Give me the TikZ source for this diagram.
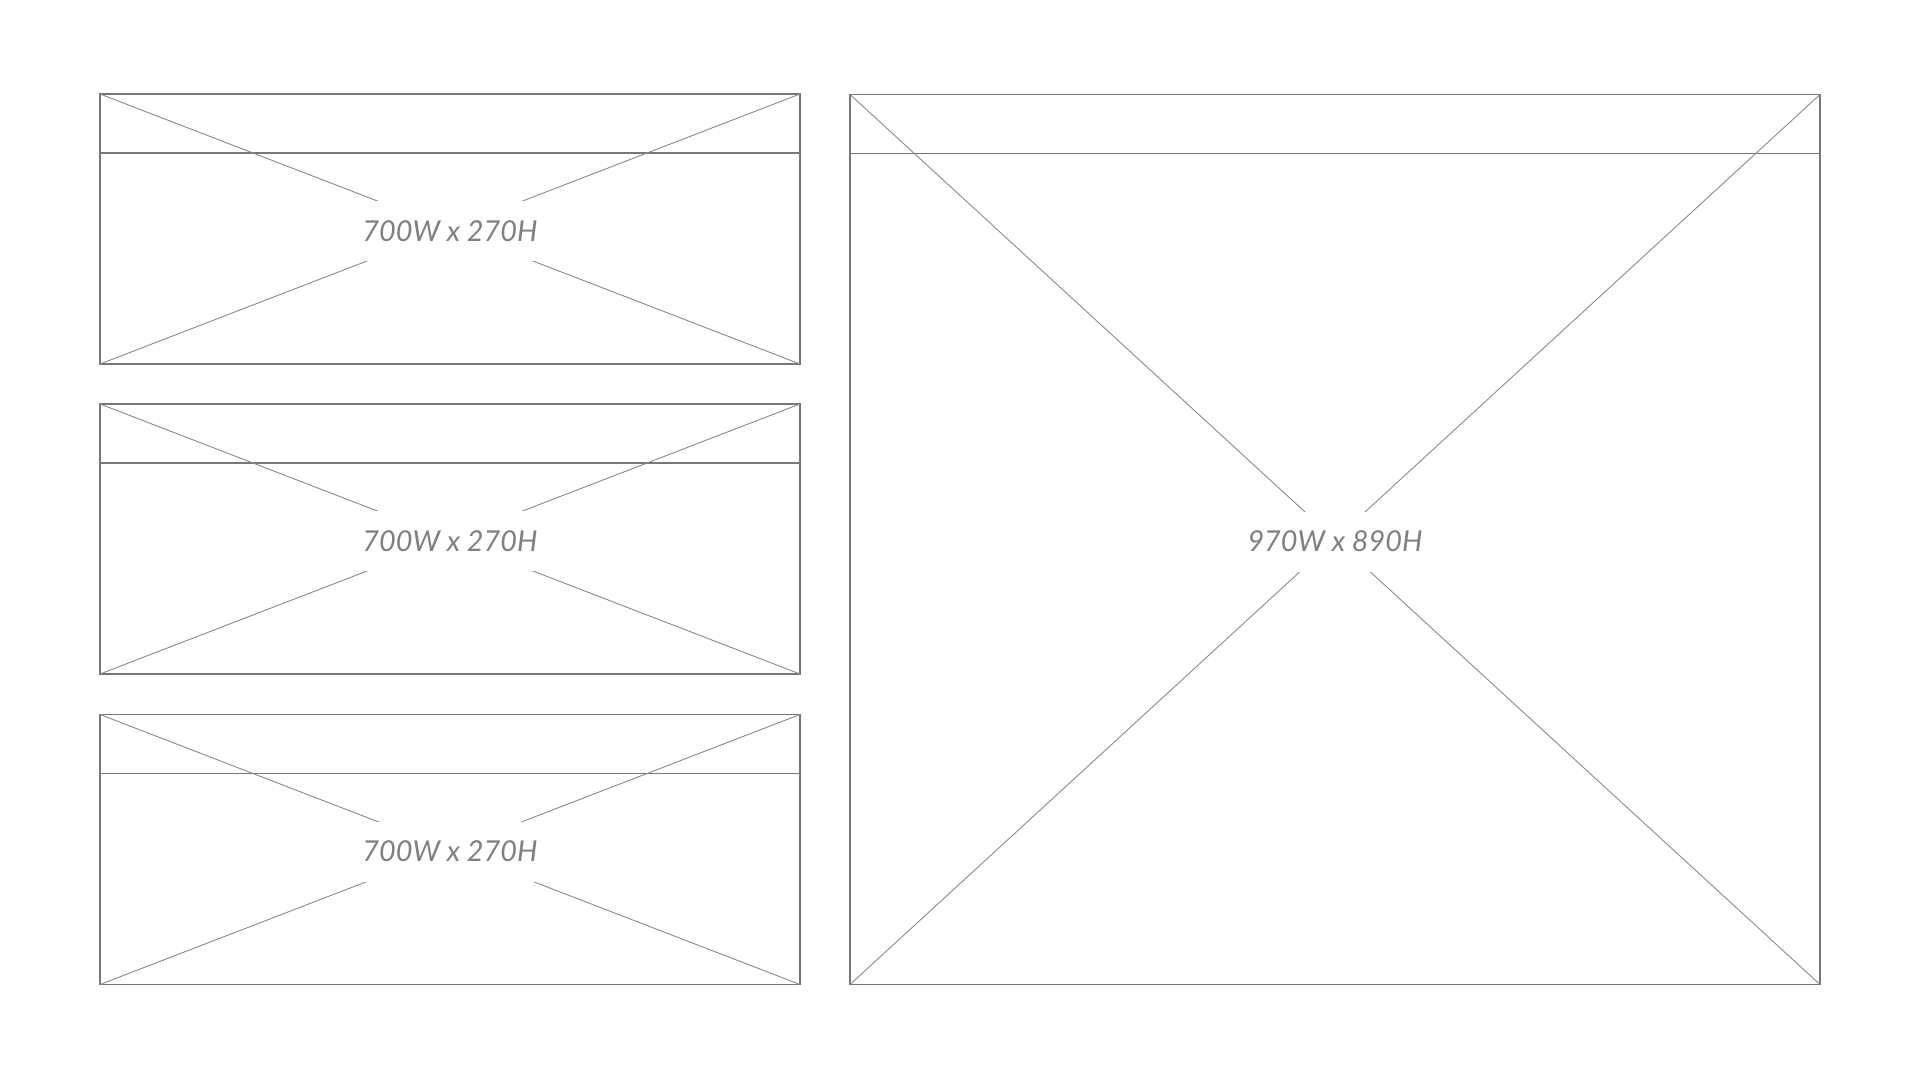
\documentclass[tikz,border=0pt]{standalone}
\usepackage{fontspec}
\setmainfont{Lato}
\usepackage{xcolor}
\usepackage{tikz}
\usetikzlibrary{positioning}
\definecolor{framegray}{HTML}{777777}
\definecolor{crossgray}{HTML}{8A8A8A}
\definecolor{textgray}{HTML}{808080}
\tikzset{
  frame/.style={draw=framegray, line width=0.55pt, rectangle, outer sep=0pt, inner sep=0pt},
  cross/.style={draw=crossgray, line width=0.45pt},
  header/.style={draw=framegray, line width=0.55pt},
  sizelbl/.style={fill=white, inner xsep=2pt, inner ysep=0pt, minimum height=30pt, text=textgray, font=\fontsize{14.4}{16}\selectfont\itshape},
}

\begin{document}
\begin{tikzpicture}[x=0.5pt, y=-0.5pt]
  \useasboundingbox (0,0) rectangle (1920,1080);
  % left column
  \node[frame, minimum width=350pt, minimum height=135pt] (fa) at (450,229) {};
  \node[frame, minimum width=350pt, minimum height=135pt] (fb) at (450,539) {};
  \node[frame, minimum width=350pt, minimum height=135pt] (fc) at (450,849.5) {};
  % right column
  \node[frame, minimum width=485pt, minimum height=445pt] (fd) at (1335,539.5) {};
  \draw[header] ([yshift=-29.5pt]fa.north west) -- ([yshift=-29.5pt]fa.north east);
  \draw[header] ([yshift=-29.5pt]fb.north west) -- ([yshift=-29.5pt]fb.north east);
  \draw[header] ([yshift=-29.5pt]fc.north west) -- ([yshift=-29.5pt]fc.north east);
  \draw[header] ([yshift=-29.5pt]fd.north west) -- ([yshift=-29.5pt]fd.north east);
  \draw[cross] (fa.north west) -- (fa.south east) (fa.north east) -- (fa.south west);
  \draw[cross] (fb.north west) -- (fb.south east) (fb.north east) -- (fb.south west);
  \draw[cross] (fc.north west) -- (fc.south east) (fc.north east) -- (fc.south west);
  \draw[cross] (fd.north west) -- (fd.south east) (fd.north east) -- (fd.south west);
  \node[sizelbl] (la) at ([yshift=-1pt]fa.center) {700W x 270H};
  \node[sizelbl] (lb) at ([yshift=-1pt]fb.center) {700W x 270H};
  \node[sizelbl] (lc) at ([yshift=-1pt]fc.center) {700W x 270H};
  \node[sizelbl] (ld) at ([yshift=-1pt]fd.center) {970W x 890H};
\end{tikzpicture}
\end{document}
